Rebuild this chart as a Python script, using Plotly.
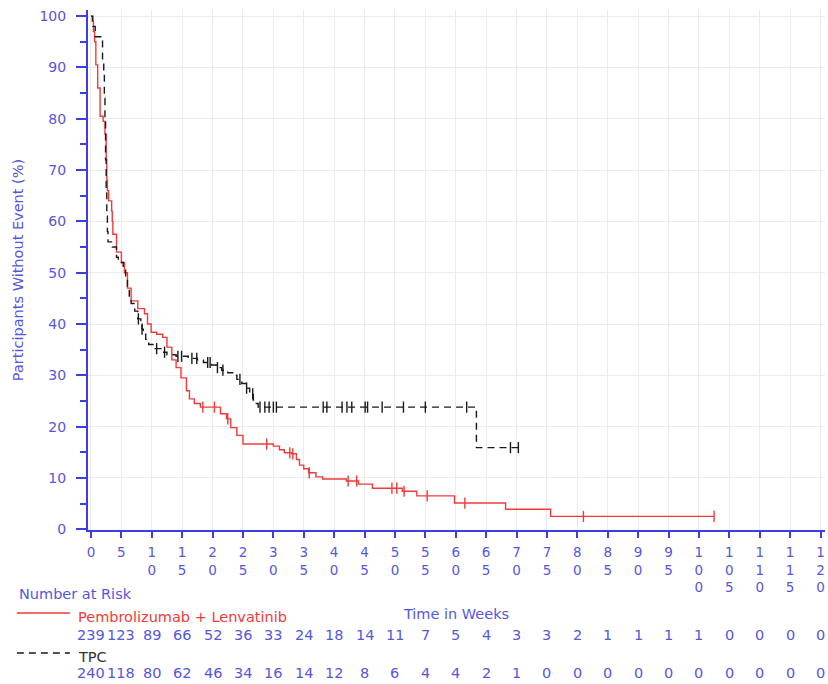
import numpy as np
import plotly.graph_objects as go

# ---------------- data ----------------
pl_time = [0, 0.2, 0.4, 0.6, 0.8, 1.1, 1.5, 2.0, 2.3, 2.5, 2.6, 2.7, 2.9, 3.4, 3.5, 3.6, 4.2, 5.0, 5.5,
           6.0, 6.6, 7.7, 8.8, 9.3, 9.9, 10.8, 11.8, 12.5, 13.3, 14.0, 14.8, 15.7, 16.2, 17.0, 18.0,
           21.3, 22.3, 23.0, 24.0, 25.0, 30.0, 31.0, 31.8, 33.0, 33.8, 34.3, 35.0, 35.8, 37.0, 38.1,
           42.0, 44.0, 46.3, 51.2, 53.6, 59.8, 68.2, 75.6, 102.5]
pl_surv = [100, 99, 97, 95, 90.5, 86, 80.5, 79.5, 77, 72, 68, 66, 64, 62, 60, 57.5, 54, 52, 50,
           47, 44.5, 43, 42, 40, 38.4, 38, 37.4, 35.5, 33, 31.5, 29.5, 27, 25.4, 24.5, 23.8,
           22.5, 21.5, 19.8, 18.3, 16.6, 16.2, 15.5, 14.9, 14.7, 13.6, 12.5, 11.8, 11.0, 10.2, 9.8,
           9.4, 8.8, 8.0, 7.4, 6.5, 5.1, 3.9, 2.5, 2.5]
pl_censor = [18.4, 20.3, 22.5, 28.9, 32.7, 33.2, 35.9, 42.3, 43.7, 49.5, 50.3, 51.5, 55.3, 61.5,
             81.0, 102.5]

tpc_time = [0, 0.3, 0.7, 1.6, 1.9, 2.1, 2.2, 2.3, 2.4, 2.5, 2.6, 2.7, 2.8, 3.5, 4.2, 4.5, 5.3, 5.7,
            6.0, 6.3, 6.6, 7.2, 7.7, 8.2, 8.4, 8.6, 9.0, 9.5, 10.2, 11.5, 12.5, 14.0, 16.0, 17.5,
            18.5, 19.8, 20.6, 21.5, 22.5, 23.3, 24.0, 24.8, 25.5, 26.1, 26.7, 27.2, 27.5, 63.4, 70.4]
tpc_surv = [100, 98, 96, 95.5, 91, 89, 84, 80, 72, 66, 61, 58, 56, 55, 53, 52, 50.5, 48.5,
            47, 45, 44, 42.5, 41, 40, 39, 38, 37, 36, 35.2, 34.5, 34, 33.7, 33.3, 33,
            32.5, 32, 31.5, 31, 30.5, 30, 29.2, 28.4, 27.5, 26.4, 25.2, 24.5, 23.8, 15.9, 15.9]
tpc_censor = [7.8, 8.4, 10.8, 12.1, 14.3, 14.9, 16.6, 17.4, 19.2, 19.6, 20.8, 21.7, 24.5, 25.6,
              26.6, 27.8, 28.6, 29.3, 30.0, 30.5, 38.2, 38.8, 41.3, 42.1, 42.9, 45.1, 45.5,
              47.9, 51.4, 55.0, 61.8, 69.0, 70.3]

risk_weeks = list(range(0, 121, 5))
pl_risk = [239, 123, 89, 66, 52, 36, 33, 24, 18, 14, 11, 7, 5, 4, 3, 3, 2, 1, 1, 1, 1, 0, 0, 0, 0]
tpc_risk = [240, 118, 80, 62, 46, 34, 16, 14, 12, 8, 6, 4, 4, 2, 1, 0, 0, 0, 0, 0, 0, 0, 0, 0, 0]

x_tickvals = list(range(0, 121, 5))
x_ticktext = ["<br>".join(str(v)) for v in x_tickvals]
y_tickvals = list(range(0, 101, 10))

pl_name = "Pembrolizumab + Lenvatinib"
tpc_name = "TPC"

# ---------------- styling ----------------
FONT = "DejaVu Sans"
BLUE_TXT = "#5656de"
BLUE_AX = "#3d3de8"
RED = "#f23a3a"
BLACK = "#1a1a1a"
DASH = "7px,5px"


def step_at(times, surv, t):
    idx = np.searchsorted(np.array(times), np.array(t), side="right") - 1
    return np.array(surv)[idx]


fig = go.Figure()

fig.add_trace(go.Scatter(x=pl_time, y=pl_surv, mode="lines", line=dict(color=RED, width=1.4, shape="hv"),
                         name=pl_name, showlegend=False))
fig.add_trace(go.Scatter(x=tpc_time, y=tpc_surv, mode="lines",
                         line=dict(color=BLACK, width=1.4, shape="hv", dash=DASH),
                         name=tpc_name, showlegend=False))
fig.add_trace(go.Scatter(x=pl_censor, y=step_at(pl_time, pl_surv, pl_censor), mode="markers",
                         marker=dict(symbol="line-ns-open", size=8, color=RED,
                                     line=dict(color=RED, width=1.4)),
                         showlegend=False, hoverinfo="skip"))
fig.add_trace(go.Scatter(x=tpc_censor, y=step_at(tpc_time, tpc_surv, tpc_censor), mode="markers",
                         marker=dict(symbol="line-ns-open", size=8, color=BLACK,
                                     line=dict(color=BLACK, width=1.4)),
                         showlegend=False, hoverinfo="skip"))

# number at risk rows
for wk, n in zip(risk_weeks, pl_risk):
    fig.add_annotation(x=wk, y=-0.2019, xref="x", yref="paper", text=str(n), showarrow=False,
                       font=dict(family=FONT, size=14.5, color=BLUE_TXT), xanchor="center", yanchor="middle")
for wk, n in zip(risk_weeks, tpc_risk):
    fig.add_annotation(x=wk, y=-0.275, xref="x", yref="paper", text=str(n), showarrow=False,
                       font=dict(family=FONT, size=14.5, color=BLUE_TXT), xanchor="center", yanchor="middle")

fig.add_annotation(x=-0.0965, y=-0.123, xref="paper", yref="paper", text="Number at Risk", showarrow=False,
                   font=dict(family=FONT, size=14.5, color=BLUE_TXT), xanchor="left", yanchor="middle")
fig.add_annotation(x=-0.0165, y=-0.167, xref="paper", yref="paper", text=pl_name, showarrow=False,
                   font=dict(family=FONT, size=14.5, color=RED), xanchor="left", yanchor="middle")
fig.add_annotation(x=-0.0165, y=-0.244, xref="paper", yref="paper", text=tpc_name, showarrow=False,
                   font=dict(family=FONT, size=14.5, color="#333333"), xanchor="left", yanchor="middle")

fig.add_shape(type="line", xref="paper", yref="paper", x0=-0.0965, x1=-0.0245, y0=-0.1596, y1=-0.1596,
              line=dict(color=RED, width=1.4))
fig.add_shape(type="line", xref="paper", yref="paper", x0=-0.0965, x1=-0.0245, y0=-0.2365, y1=-0.2365,
              line=dict(color=BLACK, width=1.4, dash=DASH))

fig.update_layout(
    width=828, height=684,
    margin=dict(l=88, r=3, t=10, b=154),
    paper_bgcolor="white", plot_bgcolor="white",
    font=dict(family=FONT, size=14, color=BLUE_TXT),
    showlegend=False,
    xaxis=dict(range=[-0.49, 120.74], tickvals=x_tickvals, ticktext=x_ticktext, automargin=False,
               showgrid=True, gridcolor="#ebebeb", gridwidth=1, zeroline=False,
               showline=True, linecolor=BLUE_AX, linewidth=2,
               ticks="outside", ticklen=6, tickcolor=BLUE_AX, tickwidth=1.5, ticklabelstandoff=3,
               tickfont=dict(family=FONT, size=13.5, color=BLUE_TXT), tickangle=0,
               title=dict(text="Time in Weeks", font=dict(family=FONT, size=14.5, color=BLUE_TXT), standoff=15)),
    yaxis=dict(range=[-0.15, 101.2], tickvals=y_tickvals, automargin=False,
               showgrid=True, gridcolor="#ebebeb", gridwidth=1, zeroline=False,
               showline=True, linecolor=BLUE_AX, linewidth=2,
               ticks="outside", ticklen=10, tickcolor=BLUE_AX, tickwidth=1.5, ticklabelstandoff=7,
               minor=dict(dtick=5, tick0=0, ticks="outside", ticklen=6, tickcolor=BLUE_AX, tickwidth=1.5,
                          showgrid=False),
               tickfont=dict(family=FONT, size=14, color=BLUE_TXT),
               title=dict(text="Participants Without Event (%)",
                          font=dict(family=FONT, size=14.5, color=BLUE_TXT), standoff=12)),
)

fig.write_html("out.html", config={"displayModeBar": False},
               post_script="document.body.style.margin='0px';")
